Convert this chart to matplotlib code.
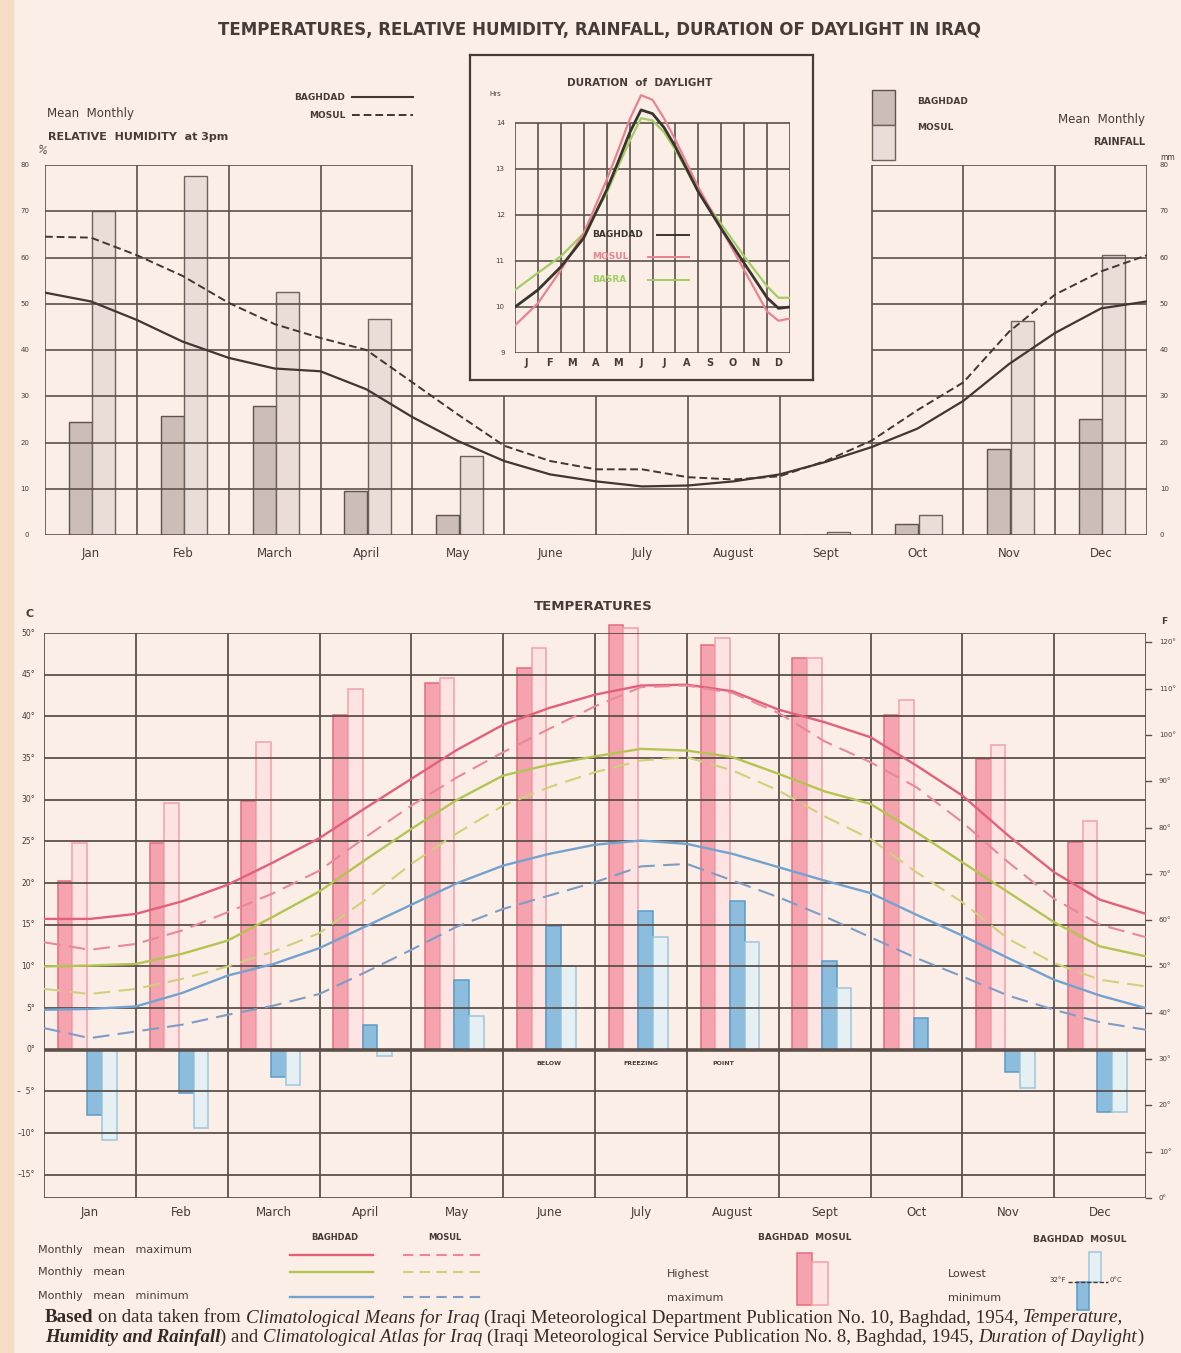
import matplotlib.pyplot as plt
from matplotlib.patches import Rectangle
import numpy as np

W, H = 1181, 1353
BG = '#fbeee6'
INK = '#453b37'
GRID = '#5b504b'

months = ['Jan', 'Feb', 'March', 'April', 'May', 'June',
          'July', 'August', 'Sept', 'Oct', 'Nov', 'Dec']
month_letters = ['J', 'F', 'M', 'A', 'M', 'J', 'J', 'A', 'S', 'O', 'N', 'D']

# mean monthly rainfall (mm)
rain_baghdad = [24.5, 25.7, 27.8, 9.5, 4.3, 0, 0, 0, 0.1, 2.3, 18.5, 25.0]
rain_mosul = [70.0, 77.6, 52.6, 46.7, 17.0, 0, 0, 0, 0.6, 4.3, 46.3, 60.5]

half_month = np.arange(0, 12.5, 0.5)

# relative humidity at 3pm (%)
hum_baghdad = [52.4, 50.5, 46.5, 41.8, 38.3, 36.0, 35.4, 31.5, 25.5, 20.3, 16.0, 13.1, 11.6,
               10.5, 10.7, 11.6, 13.1, 15.8, 19.0, 23.0, 29.0, 37.0, 43.7, 49.0, 50.5]
hum_mosul = [64.5, 64.3, 60.5, 56.0, 50.2, 45.6, 42.6, 40.0, 33.0, 26.0, 19.3, 16.0, 14.2,
             14.2, 12.5, 12.0, 12.7, 16.0, 20.4, 27.0, 33.0, 44.0, 52.0, 57.0, 60.5]

# monthly mean temperatures (deg C)
tmax_baghdad = [15.7, 15.7, 16.3, 17.8, 19.8, 22.5, 25.4, 29.0, 32.5, 36.0, 39.0, 41.0, 42.6,
                43.7, 43.8, 43.0, 40.8, 39.3, 37.5, 34.1, 30.5, 25.7, 21.3, 18.0, 16.3]
tmax_mosul = [12.9, 12.0, 12.7, 14.3, 16.5, 18.8, 21.5, 25.5, 29.3, 32.7, 35.7, 38.5, 41.2,
              43.5, 43.7, 42.8, 40.4, 37.0, 34.5, 31.5, 27.3, 22.5, 18.1, 15.0, 13.5]
tmean_baghdad = [10.0, 10.1, 10.3, 11.5, 13.1, 16.0, 19.0, 22.8, 26.5, 30.0, 32.9, 34.2, 35.2,
                 36.1, 35.9, 35.1, 33.1, 31.0, 29.5, 26.1, 22.5, 18.9, 15.3, 12.4, 11.2]
tmean_mosul = [7.3, 6.7, 7.3, 8.5, 10.0, 11.8, 14.0, 18.0, 22.3, 26.0, 29.3, 31.5, 33.3,
               34.7, 35.1, 33.5, 31.1, 28.0, 25.3, 21.3, 17.7, 13.3, 10.4, 8.4, 7.6]
tmin_baghdad = [4.8, 4.9, 5.2, 6.8, 8.9, 10.3, 12.2, 14.8, 17.4, 20.0, 22.1, 23.5, 24.6,
                25.1, 24.7, 23.5, 21.9, 20.3, 18.8, 16.2, 13.7, 11.0, 8.4, 6.5, 5.0]
tmin_mosul = [2.6, 1.4, 2.2, 3.0, 4.2, 5.3, 6.7, 9.3, 12.0, 14.8, 16.9, 18.5, 20.1,
              22.0, 22.3, 20.3, 18.3, 16.0, 13.5, 11.0, 8.8, 6.5, 4.8, 3.3, 2.4]

# absolute extremes (deg C)
highest_baghdad = [20.2, 24.8, 29.8, 40.2, 44.0, 45.8, 51.0, 48.6, 47.0, 40.2, 34.9, 24.9]
highest_mosul = [24.8, 29.6, 36.9, 43.3, 44.6, 48.2, 50.6, 49.4, 47.0, 42.0, 36.6, 27.5]
lowest_baghdad = [-7.8, -5.2, -3.3, 3.0, 8.4, 14.9, 16.7, 17.9, 10.6, 3.8, -2.7, -7.5]
lowest_mosul = [-10.8, -9.4, -4.2, -0.7, 4.0, 10.0, 13.5, 12.9, 7.4, 0.0, -4.6, -7.5]

# duration of daylight (hrs)
day_pos = [0, 1, 2, 3, 4, 4.5, 5, 5.5, 6, 6.5, 7, 8, 9, 10, 11, 11.5, 12]
day_baghdad = [10.0, 10.37, 10.87, 11.5, 12.54, 13.15, 13.78, 14.28, 14.2, 13.9, 13.48,
               12.5, 11.7, 10.95, 10.2, 9.97, 10.0]
day_mosul = [9.6, 10.08, 10.8, 11.6, 12.76, 13.4, 14.07, 14.6, 14.5, 14.1, 13.63,
             12.6, 11.7, 10.8, 9.9, 9.7, 9.75]
day_basra = [10.37, 10.74, 11.1, 11.6, 12.47, 13.05, 13.6, 14.1, 14.05, 13.8, 13.41,
             12.5, 11.8, 11.1, 10.45, 10.2, 10.2]

C_MAX, C_MAX_D = '#e2607a', '#e98899'
C_MEAN, C_MEAN_D = '#b3c453', '#cdd27a'
C_MIN, C_MIN_D = '#72a2cf', '#7d9dc6'
ROUND = dict(solid_joinstyle='round', dash_joinstyle='round')

fig = plt.figure(figsize=(W / 100, H / 100), dpi=100, facecolor=BG)
fig.add_artist(Rectangle((0, 0), 13 / W, 1, transform=fig.transFigure,
                         color='#f5dcc3', zorder=-1))


def add_px(l, t, r, b, z=1):
    ax = fig.add_axes([l / W, 1 - b / H, (r - l) / W, (b - t) / H])
    ax.set_zorder(z)
    ax.axis('off')
    return ax


over = add_px(0, 0, W, H, z=10)
over.set_xlim(0, W)
over.set_ylim(H, 0)


def txt(x, y, s, size=6.5, **kw):
    kw.setdefault('color', INK)
    kw.setdefault('va', 'center')
    return over.text(x, y, s, fontsize=size, **kw)


txt(600, 30, 'TEMPERATURES, RELATIVE HUMIDITY, RAINFALL, DURATION OF DAYLIGHT IN IRAQ',
    size=12, ha='center', fontweight='bold')

# ---------------- humidity / rainfall ----------------
ax1 = add_px(45, 165, 1147, 535)
ax1.set_xlim(0, 12)
ax1.set_ylim(0, 80)
x = np.arange(12)
ax1.bar(x + 0.26, rain_baghdad, 0.25, align='edge', color='#ccbdb6',
        edgecolor='#5e524d', lw=1, zorder=1)
ax1.bar(x + 0.515, rain_mosul, 0.25, align='edge', color='#eadcd6',
        edgecolor='#6e625d', lw=1, zorder=1)
for v in range(0, 31, 10):
    ax1.hlines(v, 0, 12, color=GRID, lw=1.2, zorder=2)
for v in range(40, 81, 10):
    ax1.hlines(v, 0, 4, color=GRID, lw=1.2, zorder=2)
    ax1.hlines(v, 9, 12, color=GRID, lw=1.2, zorder=2)
for b in range(13):
    ax1.vlines(b, 0, 80 if (b <= 4 or b >= 9) else 30, color=GRID, lw=1.2, zorder=2)
ax1.plot(half_month, hum_baghdad, color='#403632', lw=1.6, zorder=3, **ROUND)
ax1.plot(half_month, hum_mosul, color='#403632', lw=1.4, dashes=(4, 2), zorder=3, **ROUND)
for v in range(0, 81, 10):
    ax1.text(-0.17, v, str(v), ha='right', va='center', fontsize=5, color=INK)
    ax1.text(12.14, v, str(v), ha='left', va='center', fontsize=5, color=INK)
for i, m in enumerate(months):
    ax1.text(i + 0.5, -3.9, m, ha='center', va='center', fontsize=8.5, color=INK)

txt(345, 97, 'BAGHDAD', size=6.5, ha='right', fontweight='bold')
txt(345, 115, 'MOSUL', size=6.5, ha='right', fontweight='bold')
over.plot([352, 413], [97, 97], color='#403632', lw=1.5)
over.plot([352, 413], [115, 115], color='#403632', lw=1.4, dashes=(4, 2))
txt(47, 113, 'Mean  Monthly', size=8.5)
txt(48, 137, 'RELATIVE  HUMIDITY  at 3pm', size=8, fontweight='bold')
txt(36, 150, '%', size=7.5, rotation=-15)
over.add_patch(Rectangle((872, 90), 23, 35, facecolor='#ccbdb6', edgecolor='#5e524d', lw=1))
over.add_patch(Rectangle((872, 125), 23, 35, facecolor='#eadcd6', edgecolor='#6e625d', lw=1))
txt(917, 101, 'BAGHDAD', size=6.5, fontweight='bold')
txt(917, 128, 'MOSUL', size=6.5, fontweight='bold')
txt(1145, 119, 'Mean  Monthly', size=8.5, ha='right')
txt(1145, 142, 'RAINFALL', size=7, ha='right', fontweight='bold')
txt(1160, 157, 'mm', size=5.5)

# ---------------- duration of daylight inset ----------------
box = fig.add_axes([470 / W, 1 - 380 / H, 343 / W, 325 / H])
box.set_zorder(5)
box.set_facecolor(BG)
box.set_xticks([])
box.set_yticks([])
for s in box.spines.values():
    s.set_linewidth(1.6)
    s.set_color(INK)

ax3 = add_px(515, 86, 790, 353, z=6)
ax3.set_xlim(0, 12)
ax3.set_ylim(9, 14.8)
for v in range(9, 15):
    ax3.hlines(v, 0, 12, color=GRID, lw=1.2, zorder=1)
ax3.vlines(range(13), 9, 14, color=GRID, lw=1.2, zorder=1)
ax3.plot(day_pos, day_basra, color='#a3cc62', lw=1.6, zorder=2, **ROUND)
ax3.plot(day_pos, day_mosul, color='#e8828e', lw=1.6, zorder=2, **ROUND)
ax3.plot(day_pos, day_baghdad, color='#38342e', lw=2.0, zorder=3, **ROUND)
for v in range(9, 15):
    ax3.text(-0.45, v, str(v), ha='right', va='center', fontsize=5, color=INK)
ax3.text(-0.6, 14.62, 'Hrs', ha='right', va='center', fontsize=5, color=INK)
for i, s in enumerate(month_letters):
    ax3.text(i + 0.5, 8.78, s, ha='center', va='center', fontsize=7,
             color=INK, fontweight='bold')
for name, yv, col, x0 in [('BAGHDAD', 11.57, '#38342e', 6.2), ('MOSUL', 11.09, '#e8828e', 5.8),
                          ('BASRA', 10.59, '#a3cc62', 5.8)]:
    ax3.text(3.36, yv, name, ha='left', va='center', fontsize=6.5, color=col,
             fontweight='bold', zorder=4)
    ax3.plot([x0, 7.6], [yv, yv], color=col, lw=1.4, zorder=4)
txt(640, 83, 'DURATION  of  DAYLIGHT', size=7.5, ha='center', fontweight='bold')

# ---------------- temperatures ----------------
txt(593, 606, 'TEMPERATURES', size=9.5, ha='center', fontweight='bold')
txt(26, 614, 'C', size=8, fontweight='bold')
txt(1161, 621, 'F', size=6.5, fontweight='bold')

ax2 = add_px(44, 633, 1146, 1198)
ax2.set_xlim(0, 12)
ax2.set_ylim(-17.78, 50)
bar_sets = [(highest_baghdad, '#f4a3af', '#e36d7e'), (highest_mosul, '#fde3e2', '#f2a1a9'),
            (lowest_baghdad, '#8cbddc', '#5b9bc8'), (lowest_mosul, '#e6f0f3', '#9ac6df')]
for k, (vals, fc, ec) in enumerate(bar_sets):
    ax2.bar(x + 0.15 + 0.16 * k, vals, 0.16, align='edge', color=fc, edgecolor=ec,
            lw=1.1, zorder=1, clip_on=False)
for v in range(-15, 50, 5):
    ax2.hlines(v, 0, 12, color=GRID, lw=2.6 if v == 0 else 1.3, zorder=2)
ax2.hlines([50, -17.78], 0, 12, color=GRID, lw=1.3, zorder=2)
ax2.vlines(range(13), -17.78, 50, color=GRID, lw=1.3, zorder=2)

ax2.plot(half_month, tmax_baghdad, color=C_MAX, lw=1.7, zorder=3, **ROUND)
ax2.plot(half_month, tmax_mosul, color=C_MAX_D, lw=1.5, dashes=(8, 4), zorder=3, **ROUND)
ax2.plot(half_month, tmean_baghdad, color=C_MEAN, lw=1.7, zorder=3, **ROUND)
ax2.plot(half_month, tmean_mosul, color=C_MEAN_D, lw=1.5, dashes=(8, 4), zorder=3, **ROUND)
ax2.plot(half_month, tmin_baghdad, color=C_MIN, lw=1.7, zorder=3, **ROUND)
ax2.plot(half_month, tmin_mosul, color=C_MIN_D, lw=1.5, dashes=(8, 4), zorder=3, **ROUND)

for v in range(-15, 51, 5):
    lab = f'{v}°' if v >= 0 else ('–  5°' if v == -5 else f'–{-v}°')
    ax2.text(-0.1, v, lab, ha='right', va='center', fontsize=5.5, color=INK)
for f in range(0, 121, 10):
    c = (f - 32) * 5 / 9
    ax2.plot([12, 12.05], [c, c], color=GRID, lw=1, clip_on=False)
    ax2.text(12.14, c, f'{f}°', ha='left', va='center', fontsize=5, color=INK)
for i, m in enumerate(months):
    ax2.text(i + 0.5, -19.5, m, ha='center', va='center', fontsize=8.5, color=INK)
for xp, s in [(5.5, 'BELOW'), (6.5, 'FREEZING'), (7.4, 'POINT')]:
    ax2.text(xp, -1.6, s, ha='center', va='center', fontsize=4.5, color=INK,
             fontweight='bold')

# ---------------- bottom legend ----------------
txt(38, 1250, 'Monthly   mean   maximum', size=8)
txt(38, 1272, 'Monthly   mean', size=8)
txt(38, 1296, 'Monthly   mean   minimum', size=8)
txt(335, 1237, 'BAGHDAD', size=6, ha='center', fontweight='bold')
txt(445, 1237, 'MOSUL', size=6, ha='center', fontweight='bold')
for yy, c1, c2 in [(1255, C_MAX, C_MAX_D), (1272, C_MEAN, C_MEAN_D), (1297, C_MIN, C_MIN_D)]:
    over.plot([290, 373], [yy, yy], color=c1, lw=1.7)
    over.plot([403, 482], [yy, yy], color=c2, lw=1.5, dashes=(5, 3))
txt(805, 1238, 'BAGHDAD  MOSUL', size=6.5, ha='center', fontweight='bold')
txt(667, 1274, 'Highest', size=8)
txt(667, 1298, 'maximum', size=8)
over.add_patch(Rectangle((797, 1253), 15, 52, facecolor='#f4a3af', edgecolor='#e36d7e', lw=1.1))
over.add_patch(Rectangle((812, 1262), 16, 43, facecolor='#fde3e2', edgecolor='#f2a1a9', lw=1.1))
txt(1080, 1240, 'BAGHDAD  MOSUL', size=6.5, ha='center', fontweight='bold')
txt(948, 1274, 'Lowest', size=8)
txt(948, 1298, 'minimum', size=8)
over.add_patch(Rectangle((1089, 1252), 12, 30, facecolor='#e6f0f3', edgecolor='#9ac6df', lw=1.1))
over.add_patch(Rectangle((1077, 1282), 12, 28, facecolor='#8cbddc', edgecolor='#5b9bc8', lw=1.1))
over.plot([1068, 1108], [1282, 1282], color=INK, lw=1, dashes=(3, 1.5))
txt(1066, 1280, '32°F', size=5, ha='right')
txt(1110, 1280, '0°C', size=5)

# ---------------- source note ----------------
renderer = fig.canvas.get_renderer()


def rich_line(x0, y, parts, size, width):
    def place(sz):
        arts, xx = [], x0
        for s, style, weight in parts:
            kw = dict(fontsize=sz, fontstyle=style, fontweight=weight,
                      family='Liberation Serif', color='#332a26', va='center')
            probe = [over.text(0, -50, t, **kw) for t in ('n n', 'nn')]
            sp = probe[0].get_window_extent(renderer).width - probe[1].get_window_extent(renderer).width
            for p in probe:
                p.remove()
            lead = len(s) - len(s.lstrip(' '))
            trail = len(s) - len(s.rstrip(' '))
            xx += lead * sp
            t = over.text(xx, y, s.strip(), **kw)
            arts.append(t)
            xx += t.get_window_extent(renderer).width + trail * sp
        return arts, xx - x0
    arts, w = place(size)
    for a in arts:
        a.remove()
    place(size * width / w)


rich_line(45, 1318, [('Based', 'normal', 'bold'), (' on data taken from ', 'normal', 'normal'),
                     ('Climatological Means for Iraq', 'italic', 'normal'),
                     (' (Iraqi Meteorological Department Publication No. 10, Baghdad, 1954, ',
                      'normal', 'normal'),
                     ('Temperature,', 'italic', 'normal')], 9, 1080)
rich_line(45, 1337, [('Humidity and Rainfall', 'italic', 'bold'), (') and ', 'normal', 'normal'),
                     ('Climatological Atlas for Iraq', 'italic', 'normal'),
                     (' (Iraqi Meteorological Service Publication No. 8, Baghdad, 1945, ',
                      'normal', 'normal'),
                     ('Duration of Daylight', 'italic', 'normal'), (')', 'normal', 'normal')],
          9, 1100)

fig.savefig('out.png', dpi=100, facecolor=BG)
